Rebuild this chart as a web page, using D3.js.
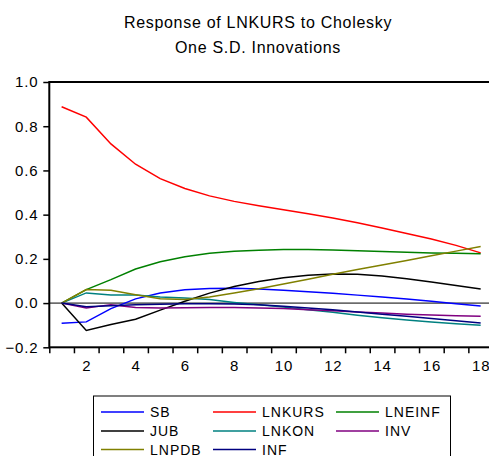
<!DOCTYPE html>
<html>
<head>
<meta charset="utf-8">
<script src="https://cdn.jsdelivr.net/npm/d3@7"></script>
<style>
  body { margin: 0; background: #fff; }
  svg { font-family: "Liberation Sans", Arial, sans-serif; }
</style>
</head>
<body>
<div id="vis"></div>
<script>
// impulse response of LNKURS, periods 1..18
const PERIODS = d3.range(1, 19);

const SB     = [-0.091, -0.085, -0.025, 0.019, 0.046, 0.060, 0.066, 0.067, 0.064, 0.058, 0.051, 0.044, 0.036, 0.027, 0.018, 0.008, -0.003, -0.013];
const LNKURS = [0.888, 0.841, 0.720, 0.628, 0.563, 0.518, 0.485, 0.460, 0.440, 0.422, 0.404, 0.385, 0.363, 0.340, 0.315, 0.290, 0.261, 0.227];
const LNEINF = [0.000, 0.061, 0.106, 0.154, 0.187, 0.210, 0.225, 0.234, 0.239, 0.242, 0.242, 0.240, 0.237, 0.233, 0.230, 0.227, 0.225, 0.223];
const JUB    = [0.000, -0.124, -0.097, -0.073, -0.032, 0.008, 0.045, 0.075, 0.098, 0.115, 0.126, 0.131, 0.130, 0.122, 0.110, 0.095, 0.080, 0.064];
const LNKON  = [0.000, 0.046, 0.037, 0.036, 0.028, 0.023, 0.016, 0.003, -0.008, -0.018, -0.030, -0.042, -0.055, -0.066, -0.076, -0.086, -0.094, -0.100];
const INV    = [0.000, -0.022, -0.007, -0.020, -0.022, -0.021, -0.020, -0.020, -0.022, -0.025, -0.030, -0.035, -0.040, -0.045, -0.050, -0.054, -0.057, -0.060];
const LNPDB  = [0.000, 0.061, 0.058, 0.038, 0.020, 0.016, 0.028, 0.046, 0.065, 0.086, 0.108, 0.130, 0.152, 0.172, 0.193, 0.214, 0.235, 0.256];
const INF    = [0.000, -0.017, -0.012, -0.008, -0.005, -0.003, -0.003, -0.004, -0.008, -0.014, -0.022, -0.030, -0.040, -0.050, -0.060, -0.070, -0.080, -0.090];

const SERIES_NAMES = ["SB", "LNKURS", "LNEINF", "JUB", "LNKON", "INV", "LNPDB", "INF"];
const SERIES_VALUES = [SB, LNKURS, LNEINF, JUB, LNKON, INV, LNPDB, INF];
const COLORS = ["#0000ff", "#ff0000", "#008000", "#000000", "#008080", "#800080", "#808000", "#000080"];

const Y_TICKS = [-0.2, 0.0, 0.2, 0.4, 0.6, 0.8, 1.0];
const X_LABELS = [2, 4, 6, 8, 10, 12, 14, 16, 18];

const FRAME_WIDTH = 489;
const FRAME_HEIGHT = 456;
const PLOT = {left: 49.3, right: 493, top: 82, bottom: 347.3};

const FRAME = d3.select("#vis")
                .append("svg")
                    .attr("width", FRAME_WIDTH)
                    .attr("height", FRAME_HEIGHT);

// title
FRAME.append("text")
    .attr("x", 258).attr("y", 28)
    .attr("text-anchor", "middle")
    .attr("font-size", "16px")
    .attr("letter-spacing", "0.7px")
    .text("Response of LNKURS to Cholesky");
FRAME.append("text")
    .attr("x", 258).attr("y", 53)
    .attr("text-anchor", "middle")
    .attr("font-size", "16px")
    .attr("letter-spacing", "0.7px")
    .text("One S.D. Innovations");

const X_SCALE = d3.scaleLinear()
                    .domain([0.5, 18.5])
                    .range([PLOT.left, PLOT.right]);
const Y_SCALE = d3.scaleLinear()
                    .domain([-0.2, 1.0])
                    .range([PLOT.bottom, PLOT.top]);

// zero line
FRAME.append("line")
    .attr("x1", PLOT.left).attr("x2", PLOT.right)
    .attr("y1", Y_SCALE(0)).attr("y2", Y_SCALE(0))
    .attr("stroke", "#000").attr("stroke-width", 1);

// series
const LINE = d3.line()
                .x((d, i) => X_SCALE(PERIODS[i]))
                .y((d) => Y_SCALE(d));

FRAME.selectAll(".series")
    .data(SERIES_VALUES)
    .enter()
    .append("path")
        .attr("class", "series")
        .attr("d", (d) => LINE(d))
        .attr("fill", "none")
        .attr("stroke", (d, i) => COLORS[i])
        .attr("stroke-width", 1.5);

// frame box
FRAME.append("rect")
    .attr("x", PLOT.left).attr("y", PLOT.top)
    .attr("width", PLOT.right - PLOT.left)
    .attr("height", PLOT.bottom - PLOT.top)
    .attr("fill", "none")
    .attr("stroke", "#000")
    .attr("stroke-width", 2);

// y axis
const Y_AXIS = FRAME.append("g")
    .attr("transform", "translate(" + PLOT.left + ",0)")
    .call(d3.axisLeft(Y_SCALE)
            .tickValues(Y_TICKS)
            .tickSize(6)
            .tickPadding(5)
            .tickFormat(d3.format(".1f")));
Y_AXIS.select(".domain").remove();
Y_AXIS.selectAll("line").attr("stroke-width", 1.5);
Y_AXIS.selectAll("text")
    .attr("font-family", "'Liberation Sans', Arial, sans-serif")
    .attr("font-size", "15px")
    .attr("letter-spacing", "0.8px")
    .attr("fill", "#000");

// x axis: ticks between periods
const X_AXIS = FRAME.append("g")
    .attr("transform", "translate(0," + PLOT.bottom + ")")
    .call(d3.axisBottom(X_SCALE)
            .tickValues(d3.range(0.5, 19, 1))
            .tickSize(6)
            .tickFormat(""));
X_AXIS.select(".domain").remove();
X_AXIS.selectAll("line").attr("stroke-width", 1.5);

const X_TEXT = FRAME.append("g")
    .attr("transform", "translate(0," + PLOT.bottom + ")")
    .call(d3.axisBottom(X_SCALE)
            .tickValues(X_LABELS)
            .tickSize(0)
            .tickPadding(13)
            .tickFormat(d3.format("d")));
X_TEXT.select(".domain").remove();
X_TEXT.selectAll("text")
    .attr("font-family", "'Liberation Sans', Arial, sans-serif")
    .attr("font-size", "15px")
    .attr("letter-spacing", "0.8px")
    .attr("fill", "#000");

// legend
FRAME.append("rect")
    .attr("x", 93.5).attr("y", 396)
    .attr("width", 357).attr("height", 80)
    .attr("fill", "none")
    .attr("stroke", "#000")
    .attr("stroke-width", 1);

const LEG_COLS = [101, 213, 336];
const LEG_ROWS = [412, 431, 449.5];

const LEGEND = FRAME.selectAll(".legend")
    .data(SERIES_NAMES)
    .enter()
    .append("g")
        .attr("class", "legend")
        .attr("transform", (d, i) => "translate(" + LEG_COLS[i % 3] + "," + LEG_ROWS[Math.floor(i / 3)] + ")");

LEGEND.append("line")
    .attr("x1", 0).attr("x2", 43)
    .attr("y1", 0).attr("y2", 0)
    .attr("stroke", (d, i) => COLORS[i])
    .attr("stroke-width", 1.5);

LEGEND.append("text")
    .attr("x", 49).attr("y", 5)
    .attr("font-size", "14px")
    .attr("letter-spacing", "1px")
    .text((d) => d);
</script>
</body>
</html>
